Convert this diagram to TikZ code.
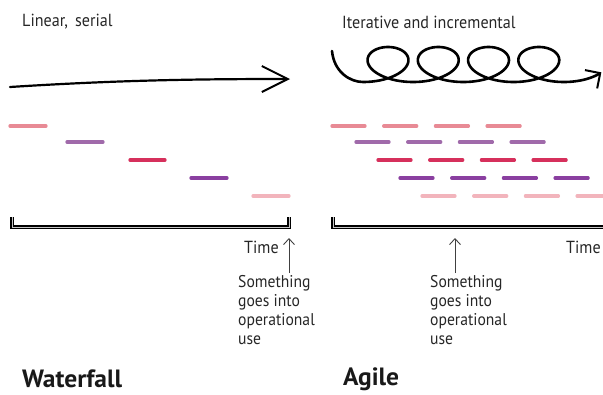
\documentclass[tikz,border=0pt]{standalone}
\usepackage{fontspec}
\setmainfont{PT Sans}[FakeStretch=0.92]
\newfontfamily\titlefont{PT Sans}[FakeStretch=1.02]
\usetikzlibrary{arrows.meta}
\definecolor{cA}{HTML}{E88A95}
\definecolor{cB}{HTML}{A06AAA}
\definecolor{cC}{HTML}{D6305C}
\definecolor{cD}{HTML}{8A3FA0}
\definecolor{cE}{HTML}{F2B4BC}
\begin{document}
\begin{tikzpicture}[x=1pt,y=-1pt,
  dashseg/.style={line width=3.3pt,line cap=round},
  mainline/.style={line width=2.2pt,line cap=round,black},
  loopline/.style={line width=2.6pt,line cap=round,black},
  bracketline/.style={draw=black,line width=2pt,double=gray!45,double distance=0.8pt,line join=miter},
  thinarrow/.style={draw=black!75,line width=0.9pt,-{Straight Barb[length=6pt,width=11pt,line width=0.9pt]}},
  lbl/.style={anchor=west,inner sep=0pt,font=\fontsize{17.5}{19}\selectfont,text=black!85},
  note/.style={anchor=north west,inner sep=0pt,align=left,font=\fontsize{17}{19}\selectfont,text=black!85},
  title/.style={anchor=west,inner sep=0pt,font=\fontsize{25}{27}\selectfont\titlefont\bfseries,text=black!90}]
\useasboundingbox (0,0) rectangle (603,394);

% ---------- Waterfall ----------
\node[lbl] (lin) at (22,22) {Linear,\, serial};
\coordinate (wa1) at (10,87);
\coordinate (wa2) at (290,79);
\draw[mainline,-{Straight Barb[length=26pt,width=26pt,line width=2pt]}] (wa1) .. controls (120,80) and (200,79) .. (wa2);

\draw[dashseg,cA] (10,126) -- (46,126);
\draw[dashseg,cB] (67,142) -- (103,142);
\draw[dashseg,cC] (130,160) -- (165,160);
\draw[dashseg,cD] (191,178) -- (227,178);
\draw[dashseg,cE] (253,196) -- (289,196);

\coordinate (wb1) at (12,217);
\coordinate (wb2) at (289,217);
\draw[bracketline] (wb1) -- (12,227) -- (289,227) -- (wb2);

\node[lbl] (wtime) at (244,247) {Time};
\node[note] (wnote) at (238,275) {Something\\goes into\\operational\\use};
\coordinate (wup) at (289,238);
\draw[thinarrow] (289,273) -- (wup);

\node[title] (wf) at (22,379) {Waterfall};

% ---------- Agile ----------
\node[lbl] (itr) at (342,22) {Iterative and incremental};
\coordinate (ls) at (332,51);
\draw[loopline,-{Straight Barb[length=11pt,width=22pt,line width=2pt]}] (ls) .. controls (334,72) and (350,82) .. (363,82)
  -- plot[variable=\t,domain=-3.1416:23.1,samples=500] ({388+8*\t-32*sin(\t r)},{64.5-17.5*cos(\t r)});

\foreach \i in {0,...,3} {
  \draw[dashseg,cA] ({332+51.7*\i},126) -- ++(33,0);
  \draw[dashseg,cB] ({356+51.7*\i},142) -- ++(33,0);
  \draw[dashseg,cC] ({378+51.7*\i},160) -- ++(33,0);
  \draw[dashseg,cD] ({400+51.7*\i},178) -- ++(33,0);
  \draw[dashseg,cE] ({422+51.7*\i},196) -- ++(33,0);
}

\coordinate (ab1) at (333,217);
\coordinate (ab2) at (612,227);
\draw[bracketline] (ab1) -- (333,227) -- (ab2);

\node[lbl] (atime) at (566,247) {Time};
\node[note] (anote) at (430,275) {Something\\goes into\\operational\\use};
\coordinate (aup) at (455,238);
\draw[thinarrow] (455,273) -- (aup);

\node[title] (ag) at (343,379) {Agile};
\end{tikzpicture}
\end{document}
